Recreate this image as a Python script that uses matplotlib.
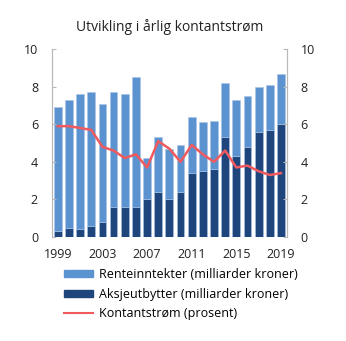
import numpy as np
import matplotlib.pyplot as plt
from matplotlib.lines import Line2D
from matplotlib.patches import Patch

plt.rcParams['font.family'] = ['Open Sans', 'DejaVu Sans']

years = list(range(1999, 2020))
totals = [6.9, 7.3, 7.6, 7.7, 7.1, 7.7, 7.6, 8.5, 4.2, 5.3, 4.7, 4.9, 6.4, 6.1, 6.2, 8.2, 7.3, 7.5, 8.0, 8.1, 8.7]
aksjeutbytter = [0.3, 0.5, 0.4, 0.6, 0.8, 1.6, 1.6, 1.6, 2.0, 2.4, 2.0, 2.4, 3.4, 3.5, 3.6, 5.3, 4.3, 4.8, 5.6, 5.7, 6.0]
renteinntekter = [t - a for t, a in zip(totals, aksjeutbytter)]
kontantstrom = [5.9, 5.9, 5.8, 5.7, 4.8, 4.6, 4.2, 4.4, 3.7, 5.1, 4.7, 4.0, 4.9, 4.4, 4.0, 4.6, 3.7, 3.8, 3.5, 3.3, 3.4]

light = '#5b93d0'
dark = '#1f467c'
red = '#f05a5f'
grey = '#b8b8b8'

fig = plt.figure(figsize=(3.46, 3.41), dpi=100)
ax = fig.add_axes([0.150, 0.305, 0.679, 0.551])

x = np.array(years)
ax.bar(x, aksjeutbytter, width=0.7, color=dark, edgecolor='#a9c4e4', linewidth=0.4)
ax.bar(x, renteinntekter, bottom=aksjeutbytter, width=0.7, color=light, edgecolor='#a9c4e4', linewidth=0.4)

ax2 = ax.twinx()
ax2.plot(x, kontantstrom, color=red, linewidth=1.8)

for a in (ax, ax2):
    a.set_ylim(0, 10)
    a.set_yticks([0, 2, 4, 6, 8, 10])
    a.set_xlim(1998.47, 2019.53)
    for s in ('top', 'bottom'):
        a.spines[s].set_visible(False)
    for s in ('left', 'right'):
        a.spines[s].set_color(grey)
        a.spines[s].set_linewidth(0.8)
    a.tick_params(axis='y', direction='in', length=3, width=0.8, color=grey, labelsize=9, pad=10, labelcolor='#222222')

ax.set_xticks([1999, 2003, 2007, 2011, 2015, 2019])
ax.tick_params(axis='x', length=0, labelsize=9, pad=8, labelcolor='#222222')

fig.text(0.49, 0.92, 'Utvikling i årlig kontantstrøm', ha='center', va='center', fontsize=10, color='#222222')

handles = [Patch(color=light), Patch(color=dark), Line2D([0], [0], color=red, linewidth=1.5)]
labels = ['Renteinntekter (milliarder kroner)', 'Aksjeutbytter (milliarder kroner)', 'Kontantstrøm (prosent)']
fig.legend(handles, labels, loc='upper left', bbox_to_anchor=(0.185, 0.215), frameon=False,
           fontsize=9, handlelength=2.3, handleheight=0.5, handletextpad=0.5, labelspacing=0.55,
           borderaxespad=0, borderpad=0)

fig.savefig('out.png', dpi=100)
